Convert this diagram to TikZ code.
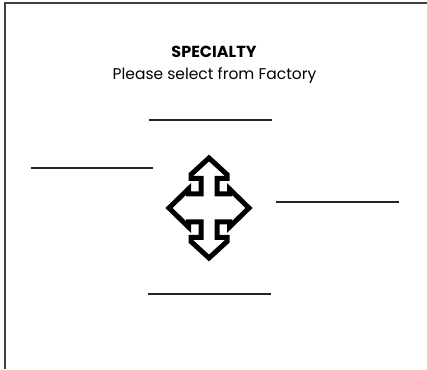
\documentclass[tikz,border=0pt]{standalone}
\usepackage{fontspec}
\setmainfont{Poppins}
\begin{document}
\begin{tikzpicture}[x=1pt,y=1pt,
  frame/.style={draw=black!75,line width=2pt},
  field/.style={draw=black!85,line width=2pt},
  movearrow/.style={draw=black,line width=5pt,line join=miter,fill=white},
  title/.style={font=\fontsize{16}{18}\selectfont\bfseries,anchor=base,inner sep=0pt},
  sub/.style={font=\fontsize{15.5}{18}\selectfont,anchor=base,inner sep=0pt},
]
\useasboundingbox (0,0) rectangle (427,369);
% frame, top and left edge only
\coordinate (tl) at (5,365.5);
\draw[frame] (427,365.5) -- (tl) -- (5,0);
% heading
\node[title] (head) at (214,311) {SPECIALTY};
\node[sub] (hint) at (214.5,289) {Please select from Factory};
% blank fields
\draw[field] (149,249) -- (272,249);
\draw[field] (31,201) -- (153,201);
\draw[field] (276,167) -- (399,167);
\draw[field] (148,75) -- (271,75);
% four-way move arrow
\coordinate (mv) at (209,161);
\draw[movearrow,shift={(mv)}]
  (0,50) -- (-18,33.5) -- (-18,29.5) -- (-8,29.5) -- (-8,14)
  -- (-20.5,14) -- (-20.5,19) -- (-40,0) -- (-20.5,-19) -- (-20.5,-14)
  -- (-8,-14) -- (-8,-29.5) -- (-18,-29.5) -- (-18,-33.5) -- (0,-50)
  -- (18,-33.5) -- (18,-29.5) -- (8,-29.5) -- (8,-14)
  -- (20.5,-14) -- (20.5,-19) -- (40,0) -- (20.5,19) -- (20.5,14)
  -- (8,14) -- (8,29.5) -- (18,29.5) -- (18,33.5) -- cycle;
\end{tikzpicture}
\end{document}
